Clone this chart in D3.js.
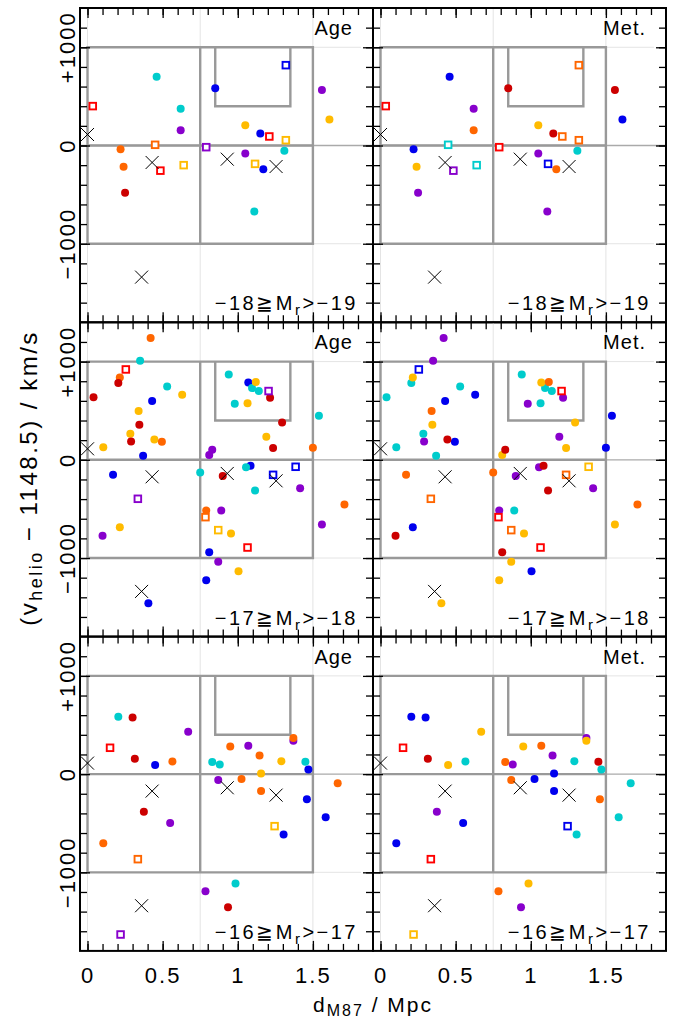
<!DOCTYPE html>
<html>
<head>
<meta charset="utf-8">
<script src="https://cdn.jsdelivr.net/npm/d3@7"></script>
<style>
  body { margin: 0; background: #fff; }
  svg { display: block; font-family: "Liberation Sans", Arial, sans-serif; }
</style>
</head>
<body>
<svg width="678" height="1019"></svg>
<script>
// magnitude bins, one per row: [bright, faint]
var magBins = [[-18, -19], [-17, -18], [-16, -17]];
var colLabels = ["Age", "Met."];

// crosses (same in every panel)
var crossDist = [0, 0.43, 0.93, 1.255, 0.36];
var crossVel = [112, -173, -139, -214, -1340];

// row 1: -18 >= Mr > -19   (sq: 1 = open square, 0 = filled circle)
var distA = [0.46, 0.62, 0.62, 0.22, 0.24, 0.25, 0.85, 1.56, 1.61, 1.05, 1.15, 1.05, 1.17, 1.31, 1.11,
             0.035, 0.45, 0.485, 0.64, 0.79, 1.32, 1.21, 1.32, 1.115];
var velA = [700, 374, 156, -37, -217, -482, 584, 564, 265, 207, 122, -82, -241, -54, -672,
            401, 7, -256, -200, -17, 818, 92, 54, -187];
var sqA = [0,0,0,0,0,0,0,0,0,0,0,0,0,0,0, 1,1,1,1,1,1,1,1,1];
var ageA = ["c","c","p","o","o","dr","b","p","y","y","b","p","b","c","c",
            "r","o","r","y","p","b","r","y","y"];
var metA = ["b","p","o","b","y","p","dr","dr","b","y","dr","p","o","c","p",
            "r","c","p","c","r","o","o","o","b"];

// row 2: -17 >= Mr > -18
var distB = [0.42, 0.35, 0.215, 0.205, 0.04, 0.53, 0.63, 0.43, 0.34, 0.345, 0.285, 0.29, 0.445, 0.495, 0.105,
             0.37, 0.17, 0.215, 0.10, 0.405, 0.94, 1.07, 1.12, 1.095, 1.14, 1.215, 0.98, 1.065, 1.295, 1.54,
             1.19, 1.235, 1.50, 0.83, 0.81, 0.75, 0.90, 1.085, 1.055, 1.115, 1.415, 1.71, 1.56, 0.79, 0.89,
             0.955, 0.81, 0.87, 1.005, 0.79,
             0.255, 0.335, 0.785, 0.87, 1.065, 1.205, 1.235, 1.385];
var velB = [1239, 1008, 839, 781, 638, 747, 662, 598, 496, 357, 265, 187, 207, 183, 129,
            41, -153, -686, -774, -1460, 869, 788, 791, 730, 700, 632, 570, 577, 380, 448,
            234, 119, 122, 102, 48, -129, -166, -61, -75, -312, -289, -455, -659, -516, -516,
            -750, -941, -1039, -1134, -1226,
            920, -397, -584, -716, -893, 700, -153, -71];
var sqB = [0,0,0,0,0,0,0,0,0,0,0,0,0,0,0,0,0,0,0,0,0,0,0,0,0,0,0,0,0,0,0,0,0,0,0,0,0,0,0,0,0,0,0,0,0,0,0,0,0,0,
           1,1,1,1,1,1,1,1];
var ageB = ["o","c","o","dr","dr","c","y","b","y","dr","y","dr","y","o","y",
            "b","b","y","p","b","c","b","y","c","c","dr","c","y","dr","c",
            "y","dr","o","p","p","c","dr","b","c","c","p","o","p","o","p",
            "y","b","p","y","b",
            "r","p","o","y","r","p","b","b"];
var metB = ["p","p","y","c","c","c","b","b","o","y","c","p","dr","b","c",
            "c","o","b","dr","y","c","y","o","c","c","p","p","c","y","b",
            "p","y","b","dr","y","o","p","dr","p","dr","p","o","y","p","c",
            "y","dr","y","b","y",
            "b","o","r","o","r","r","o","y"];

// row 3: -16 >= Mr > -17
var distC = [0.205, 0.30, 0.67, 0.315, 0.45, 0.565, 0.375, 0.55, 0.105, 0.95, 1.07, 1.145, 1.37, 1.37,
             0.83, 0.88, 1.29, 1.45, 1.47, 1.155, 1.025, 0.87, 1.155, 1.665, 1.46, 1.585, 1.305, 0.985,
             0.785, 0.935,
             0.15, 0.335, 1.245, 0.22];
var velC = [584, 577, 431, 156, 92, 129, -384, -499, -703, 282, 289, 190, 367, 340,
            122, 98, 132, 126, 48, 7, -51, -61, -173, -92, -255, -438, -615, -1114,
            -1192, -1355,
            268, -866, -530, -1633];
var sqC = [0,0,0,0,0,0,0,0,0,0,0,0,0,0,0,0,0,0,0,0,0,0,0,0,0,0,0,0,0,0, 1,1,1,1];
var ageC = ["c","dr","p","dr","b","o","dr","p","o","o","p","o","o","p",
            "c","c","y","c","b","y","o","p","o","o","b","b","b","c",
            "p","dr",
            "r","o","y","p"];
var metC = ["b","b","y","dr","y","c","p","b","b","y","o","p","p","y",
            "o","p","c","dr","c","b","b","o","b","c","o","c","c","y",
            "o","p",
            "r","r","b","y"];

var rows = [
  {dist: distA, vel: velA, sq: sqA, cols: [ageA, metA]},
  {dist: distB, vel: velB, sq: sqB, cols: [ageB, metB]},
  {dist: distC, vel: velC, sq: sqC, cols: [ageC, metC]}
];

var palette = {dr: "#cc0000", r: "#ff0000", o: "#ff6600", y: "#ffbb00", c: "#00cccc", b: "#0000ee", p: "#8800cc"};
var rank = {p: 0, b: 1, c: 2, y: 3, o: 4, dr: 5, r: 6};

var svg = d3.select("svg");
var colX = [[80, 373], [373, 666]];
var top0 = 8, ph = 314.3;

var minorX = d3.range(0, 19).map(function(i) { return i / 10; });
var majorX = [0, 0.5, 1, 1.5];
var minorY = d3.range(-1600, 1400, 200);
var majorY = [-1000, 0, 1000];

rows.forEach(function(row, i) {
  var y0 = top0 + i * ph, y1 = y0 + ph;
  var y = d3.scaleLinear().domain([-1800, 1400]).range([y1, y0]);

  colX.forEach(function(cx, j) {
    var x = d3.scaleLinear().domain([-0.05, 1.9]).range(cx);
    var g = svg.append("g");
    var clipId = "clip" + i + j;
    g.append("clipPath").attr("id", clipId)
      .append("rect").attr("x", cx[0]).attr("y", y0).attr("width", cx[1] - cx[0]).attr("height", ph);

    // faint guides
    g.selectAll(".vg").data([0, 0.75, 1.5]).enter().append("line")
        .attr("x1", function(d) { return x(d); }).attr("x2", function(d) { return x(d); })
        .attr("y1", y0).attr("y2", y1)
        .attr("stroke", "#e4e4e4").attr("stroke-width", 1);
    g.selectAll(".hg").data([-1000, 1000]).enter().append("line")
        .attr("x1", x(1.5)).attr("x2", x(1.82))
        .attr("y1", function(d) { return y(d); }).attr("y2", function(d) { return y(d); })
        .attr("stroke", "#e4e4e4").attr("stroke-width", 1);
    g.append("line")
        .attr("x1", cx[0]).attr("x2", cx[1]).attr("y1", y(0)).attr("y2", y(0))
        .attr("stroke", "#aaaaaa").attr("stroke-width", 1.3);

    // region boxes
    var box = d3.path();
    box.rect(x(0), y(1000), x(1.5) - x(0), y(-1000) - y(1000));
    box.moveTo(x(0.75), y(1000)); box.lineTo(x(0.75), y(-1000));
    box.moveTo(x(0), y(0)); box.lineTo(x(1.5), y(0));
    box.moveTo(x(0.85), y(1000)); box.lineTo(x(0.85), y(400));
    box.lineTo(x(1.35), y(400)); box.lineTo(x(1.35), y(1000));
    g.append("path").attr("d", box.toString())
        .attr("fill", "none").attr("stroke", "#999999").attr("stroke-width", 2.4);

    // galaxies
    var cset = row.cols[j];
    var pts = row.dist.map(function(d, k) {
      return {x: d, v: row.vel[k], sq: row.sq[k], c: cset[k], k: k};
    });
    var circ = pts.filter(function(p) { return !p.sq; })
      .sort(function(a, b) { return (rank[a.c] - rank[b.c]) || (a.k - b.k); });
    var sqs = pts.filter(function(p) { return p.sq; });
    var pg = g.append("g").attr("clip-path", "url(#" + clipId + ")");
    pg.selectAll("circle").data(circ).enter().append("circle")
        .attr("cx", function(d) { return x(d.x); })
        .attr("cy", function(d) { return y(d.v); })
        .attr("r", 4)
        .attr("fill", function(d) { return palette[d.c]; });
    pg.selectAll("rect").data(sqs).enter().append("rect")
        .attr("x", function(d) { return x(d.x) - 3.3; })
        .attr("y", function(d) { return y(d.v) - 3.3; })
        .attr("width", 6.6).attr("height", 6.6)
        .attr("fill", "#fff")
        .attr("stroke", function(d) { return palette[d.c]; })
        .attr("stroke-width", 1.9);
    pg.selectAll(".cross").data(crossDist).enter().append("path")
        .attr("d", function(d, k) {
          var px = x(d), py = y(crossVel[k]), s = 6.5;
          return "M" + (px - s) + "," + (py - s) + "L" + (px + s) + "," + (py + s) +
                 "M" + (px - s) + "," + (py + s) + "L" + (px + s) + "," + (py - s);
        })
        .attr("stroke", "#000").attr("stroke-width", 1).attr("fill", "none");

    // ticks on all four sides, pointing inward
    function ticks(axis, tr) {
      var a = g.append("g").attr("transform", tr).call(axis);
      a.select(".domain").remove();
      a.selectAll("line").attr("stroke", "#000").attr("stroke-width", 1.3);
    }
    [[minorX, 7], [majorX, 10]].forEach(function(t) {
      ticks(d3.axisBottom(x).tickValues(t[0]).tickSize(-t[1]).tickFormat(""), "translate(0," + y1 + ")");
      ticks(d3.axisTop(x).tickValues(t[0]).tickSize(-t[1]).tickFormat(""), "translate(0," + y0 + ")");
    });
    [[minorY, 7], [majorY, 10]].forEach(function(t) {
      ticks(d3.axisLeft(y).tickValues(t[0]).tickSize(-t[1]).tickFormat(""), "translate(" + cx[0] + ",0)");
      ticks(d3.axisRight(y).tickValues(t[0]).tickSize(-t[1]).tickFormat(""), "translate(" + cx[1] + ",0)");
    });

    g.append("rect").attr("x", cx[0]).attr("y", y0).attr("width", cx[1] - cx[0]).attr("height", ph)
        .attr("fill", "none").attr("stroke", "#000").attr("stroke-width", 2);

    // labels
    g.append("text").attr("x", cx[1] - 20).attr("y", y0 + 27)
        .attr("text-anchor", "end").attr("font-size", 20).attr("letter-spacing", 1)
        .text(colLabels[j]);
    var lab = g.append("text").attr("x", cx[1] - 15).attr("y", y1 - 12)
        .attr("text-anchor", "end").attr("font-size", 20).attr("letter-spacing", 2.5);
    lab.append("tspan").text("\u2212" + (-magBins[i][0]) + "\u2267M");
    lab.append("tspan").attr("font-size", 15).attr("dy", 5).text("r");
    lab.append("tspan").attr("dy", -5).text(">\u2212" + (-magBins[i][1]));

    if (i === rows.length - 1) {
      var ax = g.append("g").attr("transform", "translate(0," + y1 + ")")
          .call(d3.axisBottom(x).tickValues(majorX).tickSize(0).tickPadding(16)
                .tickFormat(function(d) { return String(d); }));
      ax.select(".domain").remove();
      ax.selectAll("text").attr("font-size", 22).attr("letter-spacing", 2)
          .attr("font-family", "Liberation Sans, Arial, sans-serif").attr("fill", "#000");
    }
    if (j === 0) {
      g.selectAll(".ylab").data(majorY).enter().append("text")
          .attr("transform", function(d) { return "translate(75," + y(d) + ") rotate(-90)"; })
          .attr("text-anchor", "middle").attr("font-size", 22).attr("letter-spacing", 2)
          .text(function(d) { return d > 0 ? "+" + d : d < 0 ? "\u2212" + (-d) : "0"; });
    }
  });
});

// axis titles
var yt = svg.append("text").attr("transform", "translate(37,478) rotate(-90)")
    .attr("text-anchor", "middle").attr("font-size", 24).attr("letter-spacing", 2.5);
yt.append("tspan").text("(v");
yt.append("tspan").attr("font-size", 18).attr("dy", 5).text("helio");
yt.append("tspan").attr("dy", -5).text(" \u2212 1148.5) / km/s");

var xt = svg.append("text").attr("x", 373).attr("y", 1012)
    .attr("text-anchor", "middle").attr("font-size", 21).attr("letter-spacing", 2);
xt.append("tspan").text("d");
xt.append("tspan").attr("font-size", 16).attr("dy", 4).text("M87");
xt.append("tspan").attr("dy", -4).text(" / Mpc");
</script>
</body>
</html>
